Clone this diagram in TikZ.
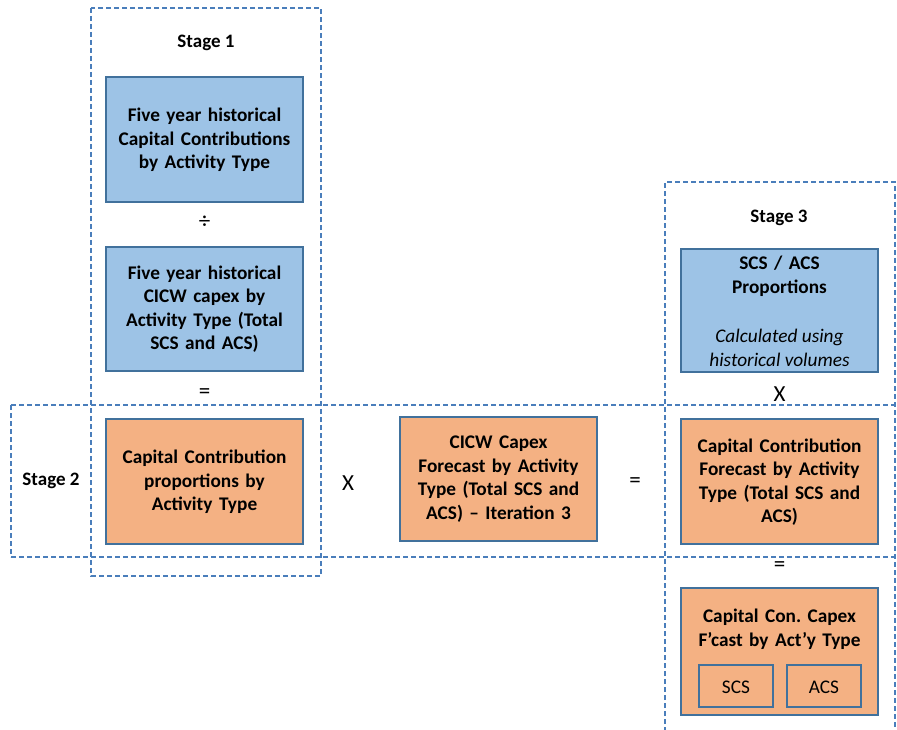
\documentclass[tikz,border=0pt]{standalone}
\usepackage{fontspec}
\setmainfont{Carlito}
\frenchspacing
\definecolor{bluefill}{HTML}{9DC3E6}
\definecolor{orangefill}{HTML}{F4B183}
\definecolor{boxline}{HTML}{41719C}
\definecolor{dashline}{HTML}{4A7EBB}
\begin{document}
\begin{tikzpicture}[x=1pt,y=-1pt,
  stagebox/.style={draw=dashline, dash pattern=on 5pt off 3pt, line width=1.1pt},
  bluebox/.style={draw=boxline, fill=bluefill, line width=1.1pt},
  orangebox/.style={draw=boxline, fill=orangefill, line width=1.1pt},
  boxtext/.style={align=center, font=\fontsize{19.3}{23.5}\selectfont\bfseries, text width=196pt, inner sep=0pt},
  optext/.style={font=\fontsize{23}{24}\selectfont},
  stagetext/.style={font=\fontsize{19}{20}\selectfont\bfseries}]
\useasboundingbox (0,0) rectangle (897,730);
% stage frames
\draw[stagebox] (91,8) rectangle (321,576);
\draw[stagebox] (11,405) -- (900,405);
\draw[stagebox] (11,557) -- (900,557);
\draw[stagebox] (11,405) -- (11,557);
\draw[stagebox] (665,740) -- (665,182) -- (895,182) -- (895,740);
% stage labels
\node[stagetext] (s1) at (206,43) {Stage 1};
\node[stagetext] (s2) at (51,481) {Stage 2};
\node[stagetext] (s3) at (779,218) {Stage 3};
% boxes
\draw[bluebox] (106,77) rectangle (303,202);
\node[boxtext] (b1) at (204.5,140) {Five year historical\\Capital Contributions\\by Activity Type};
\node[optext] (div) at (204.5,222) {÷};
\draw[bluebox] (106,247) rectangle (303,371);
\node[boxtext] (b2) at (204.5,309) {Five year historical\\CICW capex by\\Activity Type (Total\\SCS and ACS)};
\node[optext] (eq1) at (204.5,394) {=};
\draw[orangebox] (106,419) rectangle (303,544);
\node[boxtext] (b3) at (204.5,482) {Capital Contribution\\proportions by\\Activity Type};
\node[optext] (x1) at (348,483) {X};
\draw[orangebox] (400,417) rectangle (597,541);
\node[boxtext] (b4) at (498.5,479) {CICW Capex\\Forecast by Activity\\Type (Total SCS and\\ACS) -- Iteration 3};
\node[optext] (eq2) at (635,483) {=};
\draw[orangebox] (681,419) rectangle (878,544);
\node[boxtext] (b5) at (779.5,482) {Capital Contribution\\Forecast by Activity\\Type (Total SCS and\\ACS)};
\draw[bluebox] (681,249) rectangle (878,372);
\node[boxtext] (b6t) at (779.5,276) {SCS / ACS\\Proportions};
\node[align=center, inner sep=0pt, font=\fontsize{19.3}{23.5}\selectfont\itshape] (b6i) at (779.5,348) {Calculated using\\historical volumes};
\node[optext] (x2) at (779.5,394) {X};
\node[optext] (eq3) at (779.5,567) {=};
\draw[orangebox] (681,588) rectangle (878,715);
\node[boxtext] (b7) at (779.5,629) {Capital Con. Capex\\F’cast by Act’y Type};
\draw[orangebox] (699,665) rectangle (773,707);
\node[font=\fontsize{19.3}{20}\selectfont] (scs) at (736,687) {SCS};
\draw[orangebox] (787,665) rectangle (861,707);
\node[font=\fontsize{19.3}{20}\selectfont] (acs) at (824,687) {ACS};
\end{tikzpicture}
\end{document}
